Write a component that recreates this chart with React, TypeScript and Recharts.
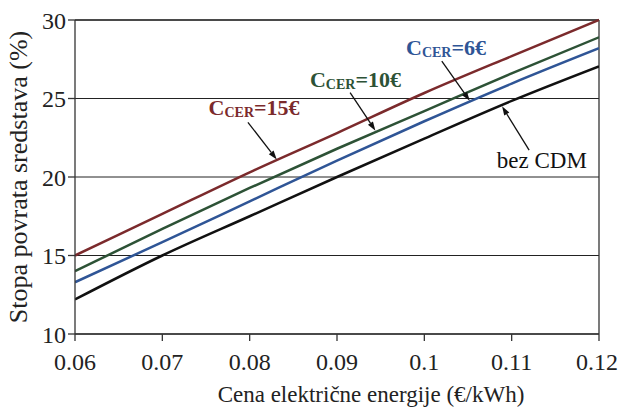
import React from "react";
import {
  LineChart, Line, XAxis, YAxis, CartesianGrid, ReferenceLine, ReferenceDot
} from "recharts";

// electricity price (€/kWh)
const prices = [0.06, 0.07, 0.08, 0.09, 0.1, 0.11, 0.12];
// rate of return (%) per scenario
const bezCdm = [12.2, 15.0, 17.5, 20.0, 22.45, 24.85, 27.05];
const cer6 = [13.3, 15.85, 18.45, 21.05, 23.55, 25.95, 28.2];
const cer10 = [14.0, 16.7, 19.3, 21.8, 24.2, 26.6, 28.9];
const cer15 = [15.0, 17.65, 20.3, 22.8, 25.35, 27.7, 30.0];

const xTicks = [0.06, 0.07, 0.08, 0.09, 0.1, 0.11, 0.12];
const yTicks = [10, 15, 20, 25, 30];

const COLORS = {
  bez: "#111111",
  c6: "#2f5596",
  c10: "#2d5236",
  c15: "#7b2a2c",
};

// annotation labels (data coords) and arrows [tail, head]
const labels = [
  { key: "c15", x: 0.0753, y: 23.92, value: "=15€", color: COLORS.c15 },
  { key: "c10", x: 0.0869, y: 25.76, value: "=10€", color: COLORS.c10 },
  { key: "c6", x: 0.0979, y: 27.74, value: "=6€", color: COLORS.c6 },
];
const arrows = [
  [{ x: 0.0798, y: 23.48 }, { x: 0.0831, y: 21.12 }],
  [{ x: 0.0915, y: 25.38 }, { x: 0.0944, y: 22.95 }],
  [{ x: 0.102, y: 27.38 }, { x: 0.1052, y: 24.85 }],
  [{ x: 0.112, y: 21.71 }, { x: 0.1089, y: 24.5 }],
];

const data = prices.map((x, i) => ({
  x,
  bez: bezCdm[i],
  c6: cer6[i],
  c10: cer10[i],
  c15: cer15[i],
}));

const FONT = '"Liberation Serif", "Times New Roman", serif';

const Arrow = (props: any) => {
  const { x1, y1, x2, y2 } = props;
  const a = Math.atan2(y2 - y1, x2 - x1);
  const len = 9;
  const w = 3;
  const bx = x2 - len * Math.cos(a);
  const by = y2 - len * Math.sin(a);
  const px = -Math.sin(a) * w;
  const py = Math.cos(a) * w;
  return (
    <g>
      <line x1={x1} y1={y1} x2={bx} y2={by} stroke="#111" strokeWidth={1.3} />
      <polygon
        points={`${x2},${y2} ${bx + px},${by + py} ${bx - px},${by - py}`}
        fill="#111"
      />
    </g>
  );
};

export default function App() {
  return (
    <div style={{ position: "absolute", left: 0, top: 0, background: "#fff" }}>
      <LineChart
        width={618}
        height={408}
        data={data}
        margin={{ top: 20, right: 19, bottom: 13, left: 0 }}
      >
        <CartesianGrid vertical={false} stroke="#222" strokeWidth={1} />
        <XAxis
          dataKey="x"
          type="number"
          domain={[0.06, 0.12]}
          ticks={xTicks}
          allowDataOverflow
          height={61}
          tickSize={7}
          tickMargin={12}
          stroke="#333"
          strokeWidth={1.3}
          tick={{ fill: "#222", fontSize: 24, fontFamily: FONT }}
          label={{
            value: "Cena električne energije (€/kWh)",
            position: "insideBottom",
            offset: -7,
            dx: 34,
            style: { fill: "#222", fontSize: 23, fontFamily: FONT },
          }}
        />
        <YAxis
          type="number"
          domain={[10, 30]}
          ticks={yTicks}
          width={75}
          tickSize={7}
          tickMargin={2}
          stroke="#333"
          strokeWidth={1.3}
          tick={{ fill: "#222", fontSize: 24, fontFamily: FONT }}
          label={{
            value: "Stopa povrata sredstava (%)",
            angle: -90,
            position: "insideLeft",
            offset: 18,
            style: { fill: "#222", fontSize: 26, fontFamily: FONT, textAnchor: "middle" },
          }}
        />
        <ReferenceLine x={0.12} stroke="#333" strokeWidth={1.3} />
        <ReferenceLine y={30} stroke="#333" strokeWidth={1.3} />

        <Line type="monotone" dataKey="bez" stroke={COLORS.bez} strokeWidth={2.5} dot={false} isAnimationActive={false} />
        <Line type="monotone" dataKey="c6" stroke={COLORS.c6} strokeWidth={2.5} dot={false} isAnimationActive={false} />
        <Line type="monotone" dataKey="c10" stroke={COLORS.c10} strokeWidth={2.5} dot={false} isAnimationActive={false} />
        <Line type="monotone" dataKey="c15" stroke={COLORS.c15} strokeWidth={2.5} dot={false} isAnimationActive={false} />

        {arrows.map((seg, i) => (
          <ReferenceLine key={i} segment={seg} shape={Arrow} ifOverflow="visible" />
        ))}

        {labels.map((l) => (
          <ReferenceDot
            key={l.key}
            x={l.x}
            y={l.y}
            r={0}
            ifOverflow="visible"
            shape={(p: any) => (
              <text x={p.cx} y={p.cy} fill={l.color} fontFamily={FONT} fontWeight="bold">
                <tspan fontSize={22}>C</tspan>
                <tspan fontSize={14} dy={2}>CER</tspan>
                <tspan fontSize={22} dy={-2}>{l.value}</tspan>
              </text>
            )}
          />
        ))}
        <ReferenceDot
          x={0.1083}
          y={20.6}
          r={0}
          ifOverflow="visible"
          shape={(p: any) => (
            <text x={p.cx} y={p.cy} fill="#111" fontFamily={FONT} fontSize={23}>
              bez CDM
            </text>
          )}
        />
      </LineChart>
    </div>
  );
}
